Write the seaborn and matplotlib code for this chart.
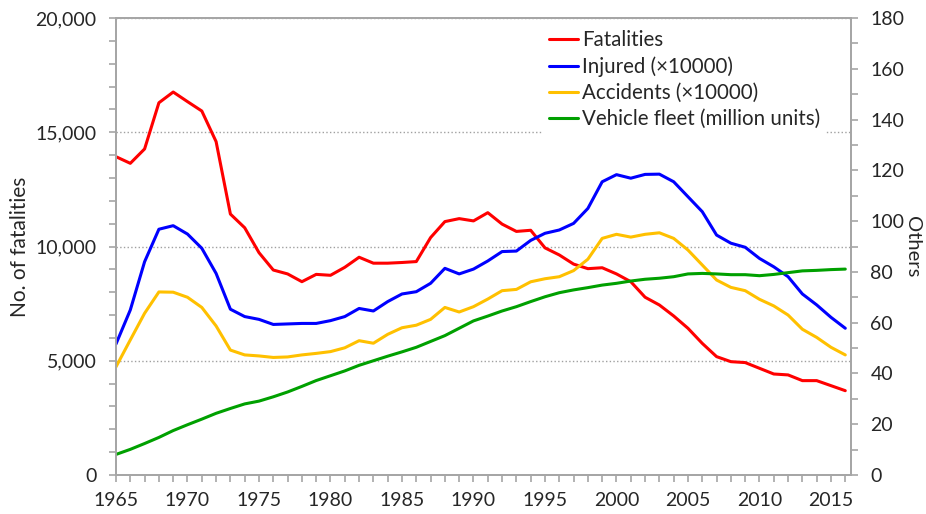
import pandas as pd
import seaborn as sns
import matplotlib.pyplot as plt
from matplotlib.ticker import MultipleLocator, FuncFormatter

years = list(range(1965, 2017))

fatalities = [13930, 13640, 14270, 16290, 16760, 16340, 15930, 14590, 11420, 10820,
              9730, 8970, 8800, 8460, 8780, 8740, 9090, 9530, 9270, 9270,
              9300, 9340, 10390, 11090, 11220, 11120, 11480, 10980, 10660, 10710,
              9940, 9630, 9230, 9030, 9070, 8800, 8460, 7780, 7440, 6960,
              6420, 5760, 5180, 4960, 4920, 4670, 4420, 4380, 4130, 4130,
              3910, 3690]

injured = [51.6, 65.0, 84.0, 96.8, 98.2, 94.9, 89.3, 79.4, 65.3, 62.4,
           61.3, 59.3, 59.5, 59.7, 59.7, 60.8, 62.4, 65.6, 64.6, 68.3,
           71.3, 72.2, 75.5, 81.4, 79.2, 81.1, 84.3, 88.0, 88.2, 92.4,
           95.2, 96.5, 99.1, 105.0, 115.5, 118.3, 116.9, 118.4, 118.5, 115.5,
           109.6, 103.7, 94.5, 91.3, 89.7, 85.3, 82.0, 78.1, 71.3, 67.0,
           62.1, 57.8]

accidents = [42.6, 53.2, 63.7, 72.1, 72.0, 70.0, 66.0, 58.7, 49.2, 47.3,
             46.9, 46.3, 46.5, 47.3, 47.9, 48.6, 50.1, 52.9, 51.9, 55.4,
             58.0, 59.0, 61.3, 66.0, 64.2, 66.3, 69.3, 72.6, 73.1, 76.1,
             77.3, 78.1, 80.5, 85.0, 93.2, 94.8, 93.7, 94.8, 95.4, 93.2,
             88.6, 82.7, 76.8, 73.9, 72.6, 69.2, 66.6, 63.0, 57.4, 54.2,
             50.3, 47.3]

fleet = [8.1, 10.1, 12.4, 14.8, 17.5, 19.8, 22.0, 24.3, 26.2, 28.0,
         29.1, 30.8, 32.7, 34.9, 37.2, 39.1, 41.0, 43.2, 45.0, 46.8,
         48.5, 50.3, 52.6, 54.9, 57.8, 60.7, 62.6, 64.6, 66.3, 68.3,
         70.2, 71.8, 72.9, 73.8, 74.8, 75.5, 76.4, 77.1, 77.5, 78.1,
         79.2, 79.4, 79.2, 78.9, 78.9, 78.5, 79.0, 79.7, 80.4, 80.6,
         80.9, 81.1]

sns.set_style("white")
plt.rcParams['font.family'] = ['Lato', 'DejaVu Sans']
plt.rcParams['font.size'] = 13.5

spine_col = '#a6a6a6'
text_col = '#262626'

fig = plt.figure(figsize=(9.26, 5.14), dpi=100)
ax = fig.add_axes([116/926, 39/514, 735/926, 457/514])
ax2 = ax.twinx()

sns.lineplot(x=years, y=fatalities, ax=ax, color='#FF0000', lw=2.2, label='Fatalities')

others = pd.DataFrame({'year': years * 3,
                       'value': injured + accidents + fleet,
                       'series': ['Injured (×10000)'] * len(years)
                                 + ['Accidents (×10000)'] * len(years)
                                 + ['Vehicle fleet (million units)'] * len(years)})
sns.lineplot(data=others, x='year', y='value', hue='series', ax=ax2, lw=2.2,
             palette=['#0000FF', '#FFC000', '#00A000'])

ax.set_xlim(1965, 2016.4)
ax.set_ylim(0, 20000)
ax2.set_ylim(0, 180)

ax.set_xticks(range(1965, 2016, 5))
ax.xaxis.set_minor_locator(MultipleLocator(1))
ax.yaxis.set_major_locator(MultipleLocator(5000))
ax.yaxis.set_minor_locator(MultipleLocator(1000))
ax.yaxis.set_major_formatter(FuncFormatter(lambda v, p: f'{int(v):,}'))
ax2.yaxis.set_major_locator(MultipleLocator(20))
ax2.yaxis.set_minor_locator(MultipleLocator(10))

ax.yaxis.grid(True, linestyle=':', color='#a0a0a0', lw=1)
ax.xaxis.grid(False)
ax2.grid(False)

for a in (ax, ax2):
    for s in a.spines.values():
        s.set_color(spine_col)
        s.set_linewidth(1.3)
    a.tick_params(which='both', direction='out', color=spine_col, width=1.2,
                  labelcolor=text_col, labelsize=14)
    a.tick_params(which='major', length=5)
    a.tick_params(which='minor', length=5)

ax.tick_params(axis='y', which='both', left=True, pad=9)
ax.tick_params(axis='x', which='both', bottom=True, pad=7)
ax2.tick_params(axis='y', which='both', right=True, pad=9)

ax.set_xlabel('')
ax.set_ylabel('No. of fatalities', color=text_col, fontsize=15,
              va='center', ha='center')
ax.yaxis.set_label_coords((20 - 116) / 735, 0.5)
ax2.set_ylabel('Others', color=text_col, fontsize=14.5, rotation=270,
               va='center', ha='center')
ax2.yaxis.set_label_coords((913 - 116) / 735, 0.5)

h1, l1 = ax.get_legend_handles_labels()
h2, l2 = ax2.get_legend_handles_labels()
ax.get_legend().remove()
leg = ax2.legend(h1 + h2, l1 + l2, loc='upper left',
                 bbox_to_anchor=(543/926, 1 - 24/514), bbox_transform=fig.transFigure,
                 frameon=True, facecolor='white', edgecolor='none', framealpha=1,
                 fancybox=False, borderaxespad=0, borderpad=0.3,
                 handlelength=1.4, handletextpad=0.2, labelspacing=0.3,
                 fontsize=14.8)
for t in leg.get_texts():
    t.set_color(text_col)

plt.savefig('out.png', dpi=100)
